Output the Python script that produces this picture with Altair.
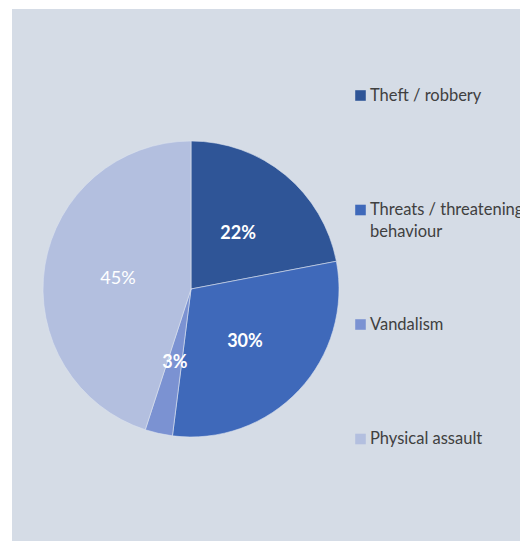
import altair as alt
import pandas as pd

categories = ["Theft / robbery", "Threats / threatening behaviour", "Vandalism", "Physical assault"]
values = [22, 30, 3, 45]
pct_labels = ["22%", "30%", "3%", "45%"]
legend_text = ["Theft / robbery", "Threats / threatening\nbehaviour", "Vandalism", "Physical assault"]
bold_flags = [True, True, True, False]
colors = ["#2f5597", "#3f69ba", "#7b92d2", "#b3bfdf"]

df = pd.DataFrame({
    "cat": categories,
    "value": values,
    "order": list(range(len(categories))),
    "legend": legend_text,
    "bold_label": [l if b else "" for l, b in zip(pct_labels, bold_flags)],
    "plain_label": [l if not b else "" for l, b in zip(pct_labels, bold_flags)],
})

CX, CY, R = 179, 280, 148
FONT = "Lato"

color = alt.Color("cat:N", scale=alt.Scale(domain=categories, range=colors), legend=None)
theta = alt.Theta("value:Q", stack=True)
order = alt.Order("order:Q")

base = alt.Chart(df)

pie = base.mark_arc(outerRadius=R, stroke="#dbe2ee", strokeWidth=0.6).encode(
    theta=theta, color=color, order=order, x=alt.value(CX), y=alt.value(CY)
)

lab_bold = base.mark_text(radius=74, dy=2, fontSize=18, fontWeight="bold", color="white", font=FONT).encode(
    theta=theta, order=order, text="bold_label:N", x=alt.value(CX), y=alt.value(CY)
)
lab_plain = base.mark_text(radius=74, dy=2, fontSize=18, fontWeight="normal", color="white", font=FONT).encode(
    theta=theta, order=order, text="plain_label:N", x=alt.value(CX), y=alt.value(CY)
)

ypos = alt.Y("cat:N", sort=categories, axis=None,
             scale=alt.Scale(type="point", domain=categories, range=[86.5, 430], padding=0))

leg_sq = base.mark_square(size=112, opacity=1, filled=True).encode(
    x=alt.value(348.5), y=ypos, color=color
)
leg_txt = base.mark_text(align="left", baseline="alphabetic", dy=5, fontSize=16.5, color="#404040",
                         font=FONT, lineBreak="\n", lineHeight=22).encode(
    x=alt.value(358), y=ypos, text="legend:N"
)

chart = alt.layer(pie, lab_bold, lab_plain, leg_sq, leg_txt).properties(
    width=508, height=532,
    padding={"left": 4, "top": 1, "right": 0, "bottom": 0},
    autosize=alt.AutoSizeParams(type="none"),
    background="white",
).configure_view(fill="#d5dce6", stroke=None)

chart.save("out.html", embed_options={"renderer": "svg", "actions": False})
